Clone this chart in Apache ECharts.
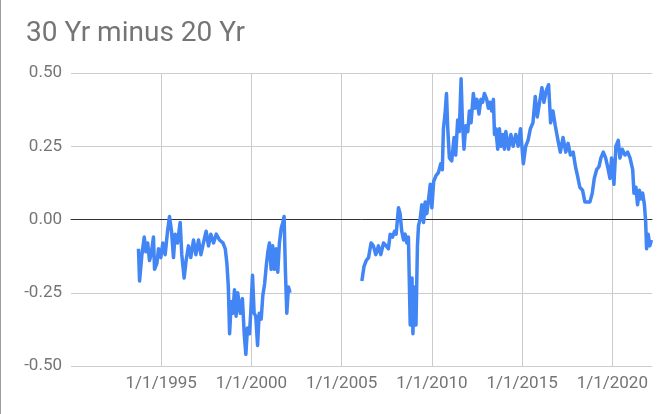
<!DOCTYPE html>
<html>
<head>
<meta charset="utf-8">
<script src="https://cdn.jsdelivr.net/npm/echarts@6/dist/echarts.min.js"></script>
<style>
html,body{margin:0;padding:0;background:#fff;}
#chart{width:672px;height:414px;}
</style>
</head>
<body>
<div id="chart"></div>
<script>
var title = '30 Yr minus 20 Yr';
var xTickYears = [1995, 2000, 2005, 2010, 2015, 2020];
var yTicks = [-0.5, -0.25, 0, 0.25, 0.5];

var seg1Years = [1993.74,1993.80,1993.93,1994.06,1994.15,1994.25,1994.35,1994.44,1994.57,1994.63,1994.76,1994.85,1994.98,1995.09,1995.22,1995.35,1995.46,1995.57,1995.68,1995.77,1995.90,1996.05,1996.14,1996.27,1996.38,1996.51,1996.64,1996.79,1996.92,1997.07,1997.20,1997.34,1997.49,1997.62,1997.75,1997.90,1998.05,1998.23,1998.42,1998.55,1998.64,1998.72,1998.79,1998.88,1998.97,1999.06,1999.15,1999.24,1999.38,1999.50,1999.60,1999.69,1999.78,1999.89,1999.96,2000.06,2000.15,2000.24,2000.34,2000.43,2000.54,2000.63,2000.73,2000.82,2000.91,2001.00,2001.09,2001.18,2001.27,2001.37,2001.46,2001.55,2001.65,2001.74,2001.81,2001.88,2001.96,2002.05,2002.14];
var seg1Values = [-0.10,-0.21,-0.12,-0.06,-0.11,-0.08,-0.14,-0.12,-0.06,-0.17,-0.15,-0.10,-0.13,-0.08,-0.12,-0.04,0.01,-0.04,-0.13,-0.05,-0.08,-0.01,-0.12,-0.20,-0.14,-0.09,-0.13,-0.07,-0.12,-0.07,-0.12,-0.08,-0.04,-0.09,-0.05,-0.08,-0.05,-0.07,-0.08,-0.10,-0.15,-0.23,-0.39,-0.28,-0.32,-0.24,-0.33,-0.25,-0.32,-0.27,-0.39,-0.46,-0.37,-0.39,-0.32,-0.19,-0.32,-0.33,-0.43,-0.32,-0.34,-0.26,-0.22,-0.16,-0.11,-0.08,-0.17,-0.09,-0.17,-0.10,-0.18,-0.08,-0.03,-0.01,0.01,-0.17,-0.32,-0.23,-0.25];

var seg2Years = [2006.12,2006.24,2006.36,2006.49,2006.63,2006.76,2006.89,2007.04,2007.17,2007.32,2007.47,2007.59,2007.69,2007.82,2007.93,2008.02,2008.15,2008.24,2008.33,2008.43,2008.52,2008.61,2008.70,2008.80,2008.90,2008.95,2009.04,2009.12,2009.20,2009.26,2009.35,2009.44,2009.54,2009.63,2009.72,2009.82,2009.91,2010.00,2010.10,2010.23,2010.36,2010.49,2010.58,2010.64,2010.73,2010.81,2010.88,2010.97,2011.10,2011.23,2011.32,2011.43,2011.52,2011.62,2011.69,2011.78,2011.88,2011.99,2012.08,2012.17,2012.30,2012.39,2012.50,2012.61,2012.72,2012.81,2012.91,2013.04,2013.13,2013.22,2013.32,2013.41,2013.47,2013.54,2013.65,2013.74,2013.84,2013.93,2014.02,2014.10,2014.25,2014.38,2014.50,2014.65,2014.78,2014.91,2015.07,2015.20,2015.33,2015.46,2015.60,2015.73,2015.84,2015.97,2016.10,2016.21,2016.34,2016.47,2016.58,2016.71,2016.84,2016.99,2017.12,2017.27,2017.42,2017.55,2017.68,2017.83,2017.96,2018.07,2018.20,2018.35,2018.48,2018.63,2018.76,2018.89,2019.00,2019.13,2019.26,2019.37,2019.50,2019.63,2019.74,2019.87,2019.96,2020.09,2020.20,2020.33,2020.42,2020.55,2020.70,2020.85,2020.98,2021.13,2021.20,2021.31,2021.40,2021.50,2021.59,2021.68,2021.78,2021.85,2021.90,2021.99,2022.08,2022.17];
var seg2Values = [-0.21,-0.16,-0.14,-0.13,-0.08,-0.09,-0.12,-0.09,-0.12,-0.08,-0.09,-0.10,-0.05,-0.06,-0.04,-0.05,0.04,0.02,-0.04,-0.07,-0.05,-0.08,-0.06,-0.36,-0.20,-0.39,-0.23,-0.36,-0.09,-0.02,0.00,0.05,-0.01,0.06,0.02,0.07,0.12,0.04,0.13,0.15,0.16,0.19,0.17,0.31,0.36,0.43,0.31,0.21,0.20,0.28,0.22,0.34,0.30,0.48,0.34,0.24,0.32,0.30,0.37,0.33,0.43,0.38,0.41,0.36,0.41,0.40,0.43,0.41,0.38,0.40,0.37,0.41,0.29,0.31,0.24,0.31,0.25,0.29,0.24,0.30,0.24,0.29,0.25,0.29,0.25,0.31,0.19,0.25,0.27,0.31,0.33,0.42,0.35,0.40,0.45,0.40,0.44,0.46,0.33,0.37,0.32,0.27,0.23,0.28,0.23,0.26,0.22,0.23,0.18,0.15,0.11,0.10,0.06,0.06,0.06,0.09,0.14,0.17,0.18,0.21,0.23,0.21,0.18,0.14,0.21,0.12,0.25,0.27,0.21,0.24,0.22,0.23,0.21,0.17,0.09,0.11,0.05,0.10,0.07,0.09,0.05,-0.01,-0.10,-0.05,-0.09,-0.07];

function pairs(xs, ys) {
  var out = [];
  for (var i = 0; i < xs.length; i++) out.push([xs[i], ys[i]]);
  return out;
}

var font = 'Roboto, Arial, sans-serif';
var chart = echarts.init(document.getElementById('chart'), null, {renderer: 'canvas'});
var lineStyle = {color: '#4285F4', width: 3.5, join: 'round'};
chart.setOption({
  animation: false,
  backgroundColor: '#ffffff',
  title: {
    text: title, left: 21, top: 15,
    textStyle: {fontFamily: font, fontSize: 28, fontWeight: 'normal', color: '#757575'}
  },
  grid: {left: 71, right: 20, top: 73, bottom: 48, containLabel: false},
  xAxis: {
    type: 'value', min: 1990, max: 2022.2, interval: 5,
    axisLine: {show: true, onZero: true, lineStyle: {color: '#333333', width: 1}},
    axisTick: {show: false},
    axisLabel: {
      showMinLabel: false, showMaxLabel: false, margin: 9,
      fontFamily: font, fontSize: 17, color: '#757575',
      formatter: function (v) { return xTickYears.indexOf(v) >= 0 ? '1/1/' + v : ''; }
    },
    splitLine: {show: true, showMinLine: false, showMaxLine: false, lineStyle: {color: '#cccccc', width: 1}}
  },
  yAxis: {
    type: 'value', min: yTicks[0], max: yTicks[yTicks.length - 1], interval: 0.25,
    axisLine: {show: false}, axisTick: {show: false},
    axisLabel: {margin: 9, fontFamily: font, fontSize: 17, color: '#757575',
      formatter: function (v) { return v.toFixed(2); }},
    splitLine: {show: true, lineStyle: {color: '#cccccc', width: 1}}
  },
  graphic: [{type: 'line', shape: {x1: 0.5, y1: 0, x2: 0.5, y2: 414}, style: {stroke: '#9e9e9e', lineWidth: 1}}],
  series: [
    {type: 'line', data: pairs(seg1Years, seg1Values), showSymbol: false, lineStyle: lineStyle, itemStyle: {color: '#4285F4'}},
    {type: 'line', data: pairs(seg2Years, seg2Values), showSymbol: false, lineStyle: lineStyle, itemStyle: {color: '#4285F4'}}
  ]
});
</script>
</body>
</html>
